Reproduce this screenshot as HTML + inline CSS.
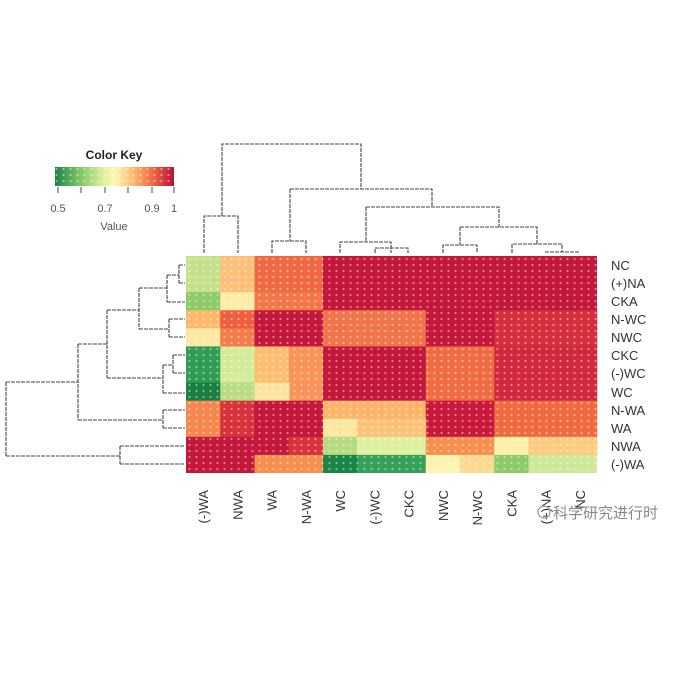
<!DOCTYPE html>
<html><head><meta charset="utf-8"><style>
html,body{margin:0;padding:0;background:#fff;}
svg{display:block;font-family:"Liberation Sans",sans-serif;}
</style></head><body>
<svg width="675" height="675" viewBox="0 0 675 675" xmlns="http://www.w3.org/2000/svg">
<defs>
<linearGradient id="ck" x1="0" x2="1">
<stop offset="0" stop-color="#1a8548"/><stop offset="0.2" stop-color="#7cc465"/><stop offset="0.4" stop-color="#d9ef9b"/><stop offset="0.5" stop-color="#fef7b5"/><stop offset="0.65" stop-color="#fdbe72"/><stop offset="0.82" stop-color="#ef6a43"/><stop offset="1" stop-color="#b8103a"/>
</linearGradient>
<pattern id="dots" x="186" y="256" width="7" height="6" patternUnits="userSpaceOnUse">
<circle cx="3.5" cy="3" r="1.1" fill="#fff" fill-opacity="0.45"/>
</pattern>
</defs>
<rect width="675" height="675" fill="#fff"/>
<!-- rows 0-1 -->
<g>
<rect x="186" y="256" width="35" height="37" fill="#c5e08a"/>
<rect x="220.25" y="256" width="35" height="37" fill="#fdc07a"/>
<rect x="254.5" y="256" width="69" height="37" fill="#ef6a42"/>
<rect x="323" y="256" width="274" height="37" fill="#c3173b"/>
<!-- row 2 -->
<rect x="186" y="292.17" width="35" height="19" fill="#8dca6a"/>
<rect x="220.25" y="292.17" width="35" height="19" fill="#fdeca5"/>
<rect x="254.5" y="292.17" width="69" height="19" fill="#f17848"/>
<rect x="323" y="292.17" width="274" height="19" fill="#c3173b"/>
<!-- row 3 -->
<rect x="186" y="310.25" width="35" height="19" fill="#fdb96b"/>
<rect x="220.25" y="310.25" width="35" height="19" fill="#ee5f3f"/>
<rect x="254.5" y="310.25" width="69" height="19" fill="#c3173b"/>
<rect x="323" y="310.25" width="103" height="19" fill="#f0754a"/>
<rect x="425.75" y="310.25" width="69" height="19" fill="#c3173b"/>
<rect x="494.25" y="310.25" width="103" height="19" fill="#d42f3c"/>
<!-- row 4 -->
<rect x="186" y="328.33" width="35" height="19" fill="#fde9a0"/>
<rect x="220.25" y="328.33" width="35" height="19" fill="#f47b4a"/>
<rect x="254.5" y="328.33" width="69" height="19" fill="#c3173b"/>
<rect x="323" y="328.33" width="103" height="19" fill="#f0754a"/>
<rect x="425.75" y="328.33" width="69" height="19" fill="#c3173b"/>
<rect x="494.25" y="328.33" width="103" height="19" fill="#d42f3c"/>
<!-- rows 5-6 -->
<rect x="186" y="346.42" width="35" height="37" fill="#309c55"/>
<rect x="220.25" y="346.42" width="35" height="37" fill="#d4eb9a"/>
<rect x="254.5" y="346.42" width="35" height="37" fill="#fdbe72"/>
<rect x="288.75" y="346.42" width="35" height="55" fill="#f8945a"/>
<rect x="323" y="346.42" width="103" height="55" fill="#c3173b"/>
<rect x="425.75" y="346.42" width="69" height="55" fill="#f06d44"/>
<rect x="494.25" y="346.42" width="103" height="55" fill="#d0283c"/>
<!-- row 7 -->
<rect x="186" y="382.58" width="35" height="19" fill="#1a7f45"/>
<rect x="220.25" y="382.58" width="35" height="19" fill="#b8dd82"/>
<rect x="254.5" y="382.58" width="35" height="19" fill="#fde3a0"/>
<!-- row 8 -->
<rect x="186" y="400.67" width="35" height="37" fill="#f7874f"/>
<rect x="220.25" y="400.67" width="35" height="37" fill="#d8323b"/>
<rect x="254.5" y="400.67" width="69" height="37" fill="#c3173b"/>
<rect x="323" y="400.67" width="103" height="19" fill="#fdb56a"/>
<rect x="425.75" y="400.67" width="69" height="37" fill="#c8193c"/>
<rect x="494.25" y="400.67" width="103" height="37" fill="#f06a40"/>
<!-- row 9 -->
<rect x="323" y="418.75" width="35" height="19" fill="#fde7a0"/>
<rect x="357.25" y="418.75" width="69" height="19" fill="#fdc27a"/>
<!-- row 10 -->
<rect x="186" y="436.83" width="103" height="19" fill="#c3173b"/>
<rect x="288.75" y="436.83" width="35" height="19" fill="#d8333b"/>
<rect x="323" y="436.83" width="35" height="19" fill="#b5dc80"/>
<rect x="357.25" y="436.83" width="69" height="19" fill="#dff0a0"/>
<rect x="425.75" y="436.83" width="69" height="19" fill="#f7904f"/>
<rect x="494.25" y="436.83" width="35" height="19" fill="#fef0a8"/>
<rect x="528.5" y="436.83" width="69" height="19" fill="#fdcc80"/>
<!-- row 11 -->
<rect x="186" y="454.92" width="69" height="18.1" fill="#c3173b"/>
<rect x="254.5" y="454.92" width="69" height="18.1" fill="#f7904f"/>
<rect x="323" y="454.92" width="35" height="18.1" fill="#1a8548"/>
<rect x="357.25" y="454.92" width="69" height="18.1" fill="#35a058"/>
<rect x="425.75" y="454.92" width="35" height="18.1" fill="#fef4b0"/>
<rect x="460" y="454.92" width="35" height="18.1" fill="#fdd890"/>
<rect x="494.25" y="454.92" width="35" height="18.1" fill="#8dca6a"/>
<rect x="528.5" y="454.92" width="68.5" height="18.1" fill="#cde896"/>
</g>
<rect x="186" y="256" width="411" height="217" fill="url(#dots)"/>
<rect x="55" y="167" width="119" height="19" fill="url(#ck)"/>
<rect x="55" y="167" width="119" height="19" fill="url(#dots)"/>
<text x="114" y="159" font-size="12" font-weight="bold" text-anchor="middle" fill="#222">Color Key</text>
<g stroke="#444" stroke-width="1">
<line x1="58" y1="187" x2="58" y2="193"/><line x1="81" y1="187" x2="81" y2="193"/><line x1="105" y1="187" x2="105" y2="193"/><line x1="128" y1="187" x2="128" y2="193"/><line x1="152" y1="187" x2="152" y2="193"/><line x1="174" y1="187" x2="174" y2="193"/>
</g>
<g font-size="11" fill="#555" text-anchor="middle">
<text x="58" y="212">0.5</text><text x="105" y="212">0.7</text><text x="152" y="212">0.9</text><text x="174" y="212">1</text>
<text x="114" y="230">Value</text>
</g>
<g stroke="#444" stroke-width="1.1" fill="none" stroke-dasharray="4 1">
<path d="M222,216V144H361V189"/>
<path d="M204,253V216H238V253"/>
<path d="M290,189H432V207"/>
<path d="M272,253V241H306V253"/>
<path d="M290,189V241"/>
<path d="M366,207H499V227"/>
<path d="M340,253V242H391V253"/>
<path d="M375,253V248H408V253"/>
<path d="M366,207V242"/>
<path d="M460,227H537V244"/>
<path d="M443,253V245H477V253M460,227V245"/>
<path d="M512,253V244H562V252"/>
<path d="M545,252H580"/>
<path d="M6,382V456"/>
<path d="M6,382H78M78,344V420"/>
<path d="M78,420H163M163,410V428M163,410H185M163,428H185"/>
<path d="M78,344H107M107,310V378"/>
<path d="M107,378H163M163,365V393M163,393H185M163,365H173M173,355V373M173,355H185M173,373H185"/>
<path d="M107,310H139M139,288V329"/>
<path d="M139,288H167M167,275V302M167,302H185M167,275H179M179,265V283M179,265H185M179,283H185"/>
<path d="M139,329H169M169,319V337M169,319H185M169,337H185"/>
<path d="M6,456H120M120,446V464M120,446H185M120,464H185"/>
</g>
<g font-size="13" fill="#333">
<text x="611" y="270">NC</text><text x="611" y="288">(+)NA</text><text x="611" y="306">CKA</text><text x="611" y="324">N-WC</text><text x="611" y="342">NWC</text><text x="611" y="360">CKC</text><text x="611" y="378">(-)WC</text><text x="611" y="397">WC</text><text x="611" y="415">N-WA</text><text x="611" y="433">WA</text><text x="611" y="451">NWA</text><text x="611" y="469">(-)WA</text>
</g>
<g font-size="13" fill="#333" text-anchor="end">
<text transform="translate(208.1,490) rotate(-90)">(-)WA</text>
<text transform="translate(242.4,490) rotate(-90)">NWA</text>
<text transform="translate(276.6,490) rotate(-90)">WA</text>
<text transform="translate(310.9,490) rotate(-90)">N-WA</text>
<text transform="translate(345.1,490) rotate(-90)">WC</text>
<text transform="translate(379.4,490) rotate(-90)">(-)WC</text>
<text transform="translate(413.6,490) rotate(-90)">CKC</text>
<text transform="translate(447.9,490) rotate(-90)">NWC</text>
<text transform="translate(482.1,490) rotate(-90)">N-WC</text>
<text transform="translate(516.4,490) rotate(-90)">CKA</text>
<text transform="translate(550.6,490) rotate(-90)">(+)NA</text>
<text transform="translate(584.9,490) rotate(-90)">NC</text>
</g>
<g fill="#888" font-size="15">
<circle cx="544" cy="512" r="6" fill="none" stroke="#aaa" stroke-width="1.5"/>
<text x="553" y="518" font-family="'Noto Sans CJK SC',sans-serif">科学研究进行时</text>
</g>
</svg>
</body></html>
